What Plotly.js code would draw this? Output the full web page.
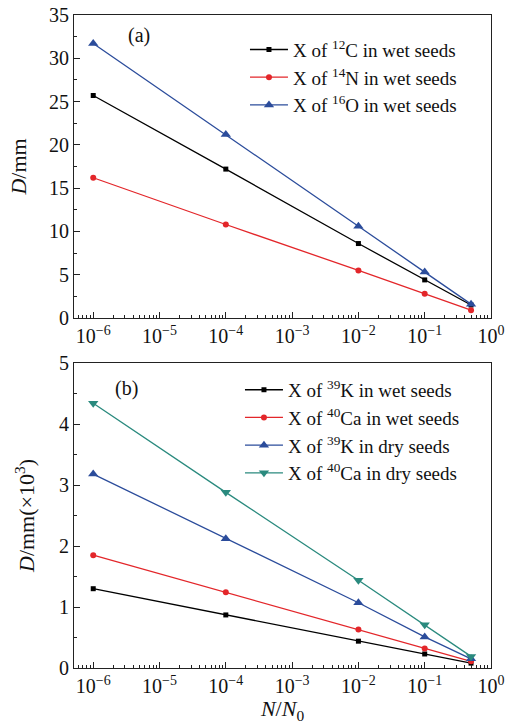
<!DOCTYPE html>
<html>
<head>
<meta charset="utf-8">
<script src="https://cdn.plot.ly/plotly-3.0.1.min.js"></script>
<style>html,body{margin:0;padding:0;background:#fff;}#chart{width:510px;height:724px;}</style>
</head>
<body>
<div id="chart"></div>
<script>
// N/N0 values (shared by both panels)
const ratio = [1e-6, 1e-4, 1e-2, 1e-1, 0.5];

// Panel (a): D in mm
const wetC12 = [25.7, 17.2, 8.6, 4.4, 1.5];
const wetN14 = [16.2, 10.8, 5.5, 2.8, 0.9];
const wetO16 = [31.7, 21.2, 10.6, 5.3, 1.6];

// Panel (b): D in mm (x10^3)
const wetK39 = [1.30, 0.87, 0.44, 0.23, 0.08];
const wetCa40 = [1.85, 1.24, 0.63, 0.32, 0.11];
const dryK39 = [3.18, 2.12, 1.07, 0.51, 0.15];
const dryCa40 = [4.34, 2.88, 1.44, 0.71, 0.19];

const namesA = ['X of <sup>12</sup>C in wet seeds', 'X of <sup>14</sup>N in wet seeds', 'X of <sup>16</sup>O in wet seeds'];
const namesB = ['X of <sup>39</sup>K in wet seeds', 'X of <sup>40</sup>Ca in wet seeds', 'X of <sup>39</sup>K in dry seeds', 'X of <sup>40</sup>Ca in dry seeds'];

const xTickVals = [1e-6, 1e-5, 1e-4, 1e-3, 1e-2, 1e-1, 1];
const xTickText = ['10<sup>−6</sup>', '10<sup>−5</sup>', '10<sup>−4</sup>', '10<sup>−3</sup>', '10<sup>−2</sup>', '10<sup>−1</sup>', '10<sup>0</sup>'];

const FONT = 'Liberation Serif, Times New Roman, serif';
const BLACK = '#000000', RED = '#e3262a', BLUE = '#2b4c9b', TEAL = '#2a8a7e';

function tr(y, name, color, symbol, size, xa, ya, leg) {
  return {
    x: ratio, y: y, name: name, type: 'scatter', mode: 'lines+markers',
    xaxis: xa, yaxis: ya, legend: leg,
    line: {color: color, width: 1.3},
    marker: {color: color, symbol: symbol, size: size}
  };
}

const data = [
  tr(wetC12, namesA[0], BLACK, 'square', 5, 'x', 'y', 'legend'),
  tr(wetN14, namesA[1], RED, 'circle', 6, 'x', 'y', 'legend'),
  tr(wetO16, namesA[2], BLUE, 'triangle-up', 9, 'x', 'y', 'legend'),
  tr(wetK39, namesB[0], BLACK, 'square', 5, 'x2', 'y2', 'legend2'),
  tr(wetCa40, namesB[1], RED, 'circle', 6, 'x2', 'y2', 'legend2'),
  tr(dryK39, namesB[2], BLUE, 'triangle-up', 9, 'x2', 'y2', 'legend2'),
  tr(dryCa40, namesB[3], TEAL, 'triangle-down', 9, 'x2', 'y2', 'legend2')
];

function xaxis(anchor, showTitle) {
  const ax = {
    type: 'log', range: [-6.29, 0], anchor: anchor,
    tickmode: 'array', tickvals: xTickVals, ticktext: xTickText,
    ticks: 'inside', ticklen: 6, tickwidth: 1, tickcolor: '#222',
    minor: {ticks: 'inside', ticklen: 3, tickwidth: 1, tickcolor: '#222', dtick: 'D1', showgrid: false},
    showline: true, linecolor: '#222', linewidth: 1, mirror: true,
    showgrid: false, zeroline: false,
    tickfont: {family: FONT, size: 20, color: '#111'}
  };
  if (showTitle) ax.title = {text: '<i>N</i>/<i>N</i><sub>0</sub>', font: {family: FONT, size: 22, color: '#111'}, standoff: 13};
  return ax;
}
function yaxis(anchor, domain, range, dtick, title, standoff) {
  return {
    domain: domain, range: range, anchor: anchor, dtick: dtick,
    ticks: 'inside', ticklen: 6, tickwidth: 1, tickcolor: '#222',
    minor: {ticks: 'inside', ticklen: 3, tickwidth: 1, tickcolor: '#222', dtick: dtick / 2, showgrid: false},
    showline: true, linecolor: '#222', linewidth: 1, mirror: true,
    showgrid: false, zeroline: false,
    tickfont: {family: FONT, size: 20, color: '#111'},
    title: {text: title, font: {family: FONT, size: 22, color: '#111'}, standoff: standoff}
  };
}

const legendBase = {
  xanchor: 'left', yanchor: 'top', bgcolor: 'rgba(0,0,0,0)', borderwidth: 0,
  font: {family: FONT, size: 19, color: '#111'}, itemwidth: 38, tracegroupgap: 0
};

const layout = {
  width: 510, height: 724,
  margin: {l: 74, r: 19, t: 15, b: 56},
  paper_bgcolor: '#fff', plot_bgcolor: '#fff',
  showlegend: true,
  xaxis: xaxis('y', false),
  yaxis: yaxis('x', [0.536, 1], [0, 35], 5, '<i>D</i>/mm', 16),
  xaxis2: xaxis('y2', true),
  yaxis2: yaxis('x2', [0, 0.467], [0, 5], 1, '<i>D</i>/mm(×10<sup>3</sup>)', 18),
  legend: Object.assign({}, legendBase, {x: 0.41, y: 0.976}),
  legend2: Object.assign({}, legendBase, {x: 0.398, y: 0.455}),
  annotations: [
    {text: '(a)', xref: 'paper', yref: 'paper', x: 0.155, y: 0.968, xanchor: 'center', yanchor: 'middle', showarrow: false, font: {family: FONT, size: 20, color: '#111'}},
    {text: '(b)', xref: 'paper', yref: 'paper', x: 0.127, y: 0.428, xanchor: 'center', yanchor: 'middle', showarrow: false, font: {family: FONT, size: 20, color: '#111'}}
  ]
};

Plotly.newPlot('chart', data, layout, {displayModeBar: false, staticPlot: true});
</script>
</body>
</html>
